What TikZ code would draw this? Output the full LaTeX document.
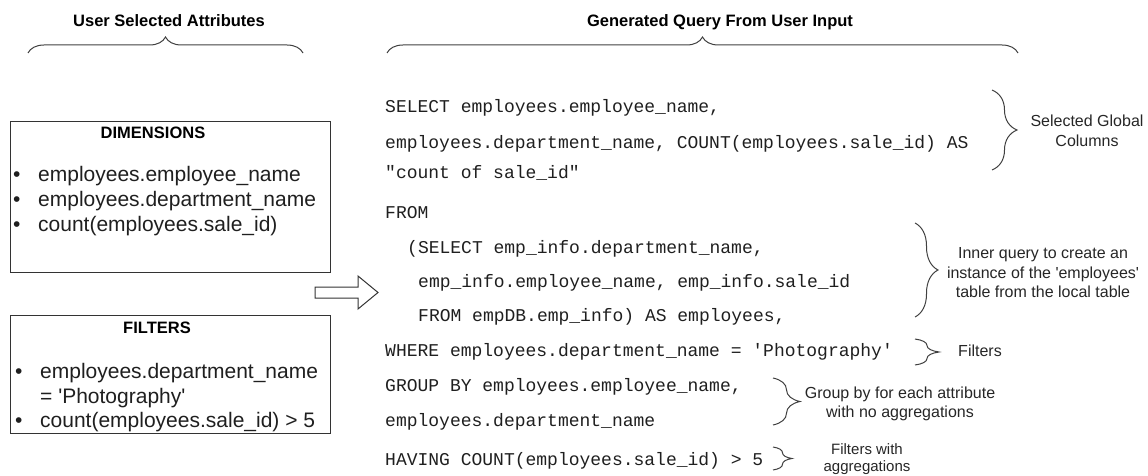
\documentclass[tikz,border=0pt]{standalone}
\usepackage{fontspec}
\setmainfont{Liberation Sans}[Ligatures=TeXOff]
\setmonofont{Liberation Mono}
\usetikzlibrary{decorations.pathreplacing}

\newcommand{\bul}{\makebox[25pt][l]{\textbullet}}

\begin{document}
\begin{tikzpicture}[x=1pt,y=-1pt,
    head/.style={anchor=base,inner sep=0pt,font=\fontsize{16.5}{19}\selectfont\bfseries},
    code/.style={anchor=base west,inner sep=0pt,text=black!88,font=\fontsize{18}{20}\selectfont\ttfamily},
    item/.style={anchor=base west,inner sep=0pt,text=black!88,font=\fontsize{21}{24}\selectfont},
    note/.style={align=center,inner sep=0pt,text=black!85,font=\fontsize{16}{19.5}\selectfont},
    box/.style={draw=black!80,line width=1pt,inner sep=0pt,minimum width=320pt},
    brc/.style={draw=black!75,line width=1pt,decorate,decoration={brace,amplitude=#1}}]
        \useasboundingbox (0,0) rectangle (1148,476);

        % headings and top braces
        \node[head] (lefthead) at (169,27) {User Selected Attributes};
        \node[head] (righthead) at (720,27) {Generated Query From User Input};
        \draw[brc=16] (28,53) -- (303,53);
        \draw[brc=16] (387,53) -- (1018,53);

        % user selected attributes
        \node[box,minimum height=150pt] (dims) at (170,197) {};
        \node[head,anchor=center] (dimtitle) at (153,132.5) {DIMENSIONS};
        \node[item] (dimA) at (13,181) {\bul employees.employee\_name};
        \node[item] (dimB) at (13,206) {\bul employees.department\_name};
        \node[item] (dimC) at (13,231) {\bul count(employees.sale\_id)};

        \node[box,minimum height=118pt] (filters) at (170,374) {};
        \node[head,anchor=center] (filtitle) at (157,327.5) {FILTERS};
        \node[item] (filA) at (15,378) {\bul employees.department\_name};
        \node[item] (filB) at (40,403) {= 'Photography'};
        \node[item] (filC) at (15,427) {\bul count(employees.sale\_id) > 5};

        % block arrow
        \draw[black!80,line width=1pt,line join=miter] (315,287) -- (358,287) -- (358,276) -- (378,292.5)
            -- (358,309) -- (358,298) -- (315,298) -- cycle;

        % generated query
        \node[code] (q1) at (385,113) {SELECT employees.employee\_name,};
        \node[code] (q2) at (385,148) {employees.department\_name, COUNT(employees.sale\_id) AS};
        \node[code] (q3) at (385,178) {"count of sale\_id"};
        \node[code] (q4) at (385,218) {FROM};
        \node[code] (q5) at (407,253) {(SELECT emp\_info.department\_name,};
        \node[code] (q6) at (418,287) {emp\_info.employee\_name, emp\_info.sale\_id};
        \node[code] (q7) at (418,321) {FROM empDB.emp\_info) AS employees,};
        \node[code] (q8) at (385,356) {WHERE employees.department\_name = 'Photography'};
        \node[code] (q9) at (385,391) {GROUP BY employees.employee\_name,};
        \node[code] (q10) at (385,426) {employees.department\_name};
        \node[code] (q11) at (385,465) {HAVING COUNT(employees.sale\_id) > 5};

        % side braces and notes
        \draw[brc=25] (992,90) -- (992,170);
        \node[note] (n1) at (1087,131) {Selected Global\\Columns};
        \draw[brc=23] (915,223) -- (915,317);
        \node[note] (n2) at (1043,273) {Inner query to create an\\instance of the 'employees'\\table from the local table};
        \draw[brc=24] (915,339) -- (915,365);
        \node[note] (n3) at (980,351) {Filters};
        \draw[brc=27] (773,378) -- (773,425);
        \node[note] (n4) at (900,404) {Group by for each attribute\\with no aggregations};
        \draw[brc=19] (773,447) -- (773,470);
        \node[note,font=\fontsize{15}{17}\selectfont] (n5) at (867,459) {Filters with\\aggregations};
\end{tikzpicture}
\end{document}
